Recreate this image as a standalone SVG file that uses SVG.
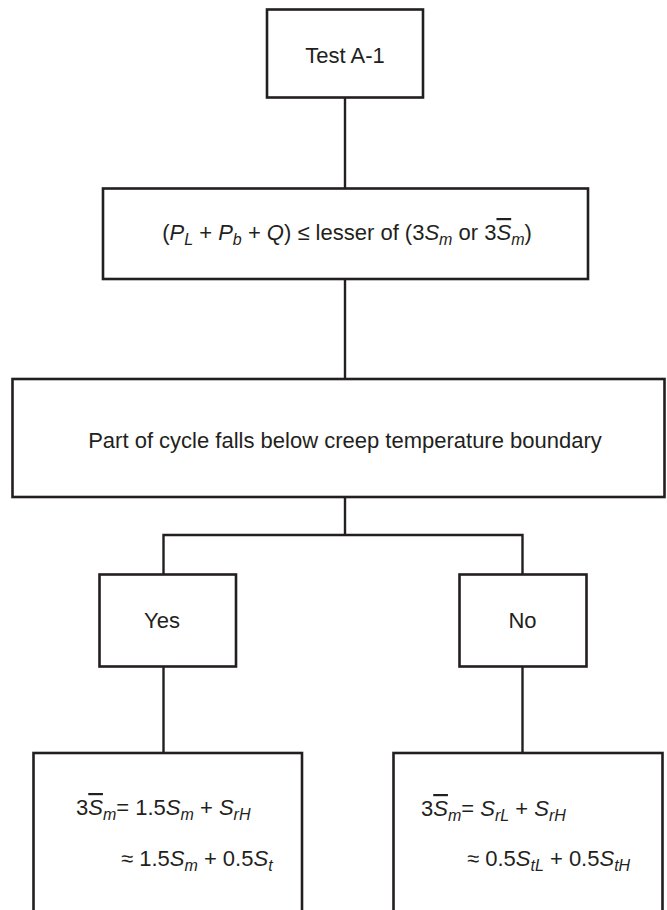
<svg xmlns="http://www.w3.org/2000/svg" width="667" height="910" viewBox="0 0 667 910">
  <style>
    .box { fill: #ffffff; stroke: #231f20; stroke-width: 2.6; }
    .wire { fill: none; stroke: #231f20; stroke-width: 2.4; }
    text { font-family: "Liberation Sans", Arial, Helvetica, sans-serif; font-size: 22px; fill: #231f20; }
    .i { font-style: italic; }
    .sub { font-style: italic; font-size: 16px; }
    .bar { text-decoration: overline; }
  </style>
  <rect width="667" height="910" fill="#ffffff"/>

  <!-- connectors -->
  <g id="connectors">
    <line class="wire" x1="345" y1="97" x2="345" y2="188"/>
    <line class="wire" x1="345" y1="279" x2="345" y2="379"/>
    <polyline class="wire" points="345,497 345,535"/>
    <polyline class="wire" points="163.5,574 163.5,535 522.5,535 522.5,574"/>
    <line class="wire" x1="163.5" y1="667" x2="163.5" y2="753"/>
    <line class="wire" x1="522.5" y1="667" x2="522.5" y2="753"/>
  </g>

  <g id="test-a1">
    <rect class="box" x="267" y="9.5" width="156" height="88"/>
    <text x="345" y="63" text-anchor="middle">Test A-1</text>
  </g>

  <g id="stress-limit">
    <rect class="box" x="103" y="188.5" width="485" height="90.5"/>
    <text x="347" y="240" text-anchor="middle">(<tspan class="i">P</tspan><tspan class="sub" dy="5">L</tspan><tspan dy="-5"> + </tspan><tspan class="i">P</tspan><tspan class="sub" dy="5">b</tspan><tspan dy="-5"> + </tspan><tspan class="i">Q</tspan>) ≤ lesser of (3<tspan class="i">S</tspan><tspan class="sub" dy="5">m</tspan><tspan dy="-5"> or 3</tspan><tspan class="i bar">S</tspan><tspan class="sub" dy="5">m</tspan><tspan dy="-5">)</tspan></text>
  </g>

  <g id="creep-boundary">
    <rect class="box" x="12.5" y="379" width="652" height="118"/>
    <text x="345" y="448" text-anchor="middle">Part of cycle falls below creep temperature boundary</text>
  </g>

  <g id="yes">
    <rect class="box" x="99.5" y="574.5" width="136.5" height="92"/>
    <text x="162" y="628" text-anchor="middle">Yes</text>
  </g>

  <g id="no">
    <rect class="box" x="459.5" y="574.5" width="127" height="92"/>
    <text x="522.5" y="628" text-anchor="middle">No</text>
  </g>

  <g id="yes-result">
    <rect class="box" x="33.5" y="753" width="268.5" height="170"/>
    <text x="76" y="815">3<tspan class="i bar">S</tspan><tspan class="sub" dy="5">m</tspan><tspan dy="-5">= 1.5</tspan><tspan class="i">S</tspan><tspan class="sub" dy="5">m</tspan><tspan dy="-5"> + </tspan><tspan class="i">S</tspan><tspan class="sub" dy="5">rH</tspan></text>
    <text x="121" y="866">≈ 1.5<tspan class="i">S</tspan><tspan class="sub" dy="5">m</tspan><tspan dy="-5"> + 0.5</tspan><tspan class="i">S</tspan><tspan class="sub" dy="5">t</tspan></text>
  </g>

  <g id="no-result">
    <rect class="box" x="393.5" y="753" width="269" height="170"/>
    <text x="421" y="816">3<tspan class="i bar">S</tspan><tspan class="sub" dy="5">m</tspan><tspan dy="-5">= </tspan><tspan class="i">S</tspan><tspan class="sub" dy="5">rL</tspan><tspan dy="-5"> + </tspan><tspan class="i">S</tspan><tspan class="sub" dy="5">rH</tspan></text>
    <text x="467" y="866">≈ 0.5<tspan class="i">S</tspan><tspan class="sub" dy="5">tL</tspan><tspan dy="-5"> + 0.5</tspan><tspan class="i">S</tspan><tspan class="sub" dy="5">tH</tspan></text>
  </g>
</svg>
